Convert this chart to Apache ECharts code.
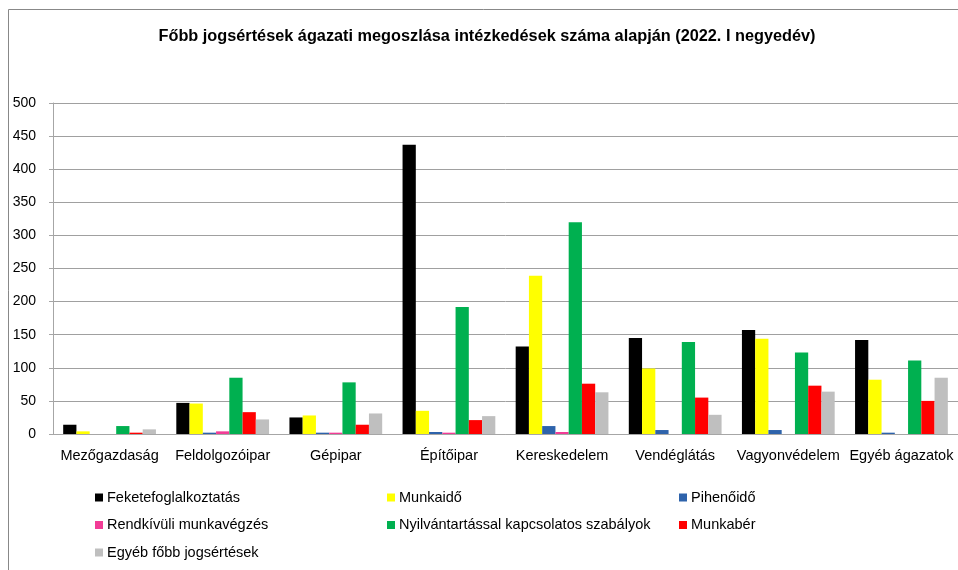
<!DOCTYPE html>
<html>
<head>
<meta charset="utf-8">
<script src="https://cdn.jsdelivr.net/npm/echarts@6/dist/echarts.min.js"></script>
<style>
  html, body { margin: 0; padding: 0; background: #fff; }
  #chart { width: 958px; height: 570px; }
</style>
</head>
<body>
<div id="chart"></div>
<script>
// ágazatok
const categories = ['Mezőgazdaság', 'Feldolgozóipar', 'Gépipar', 'Építőipar', 'Kereskedelem', 'Vendéglátás', 'Vagyonvédelem', 'Egyéb ágazatok']
const yTicks = [0, 50, 100, 150, 200, 250, 300, 350, 400, 450, 500]

// jogsértések, ágazatonként
const feketefoglalkoztatas = [14, 47, 25, 437, 132, 145, 157, 142]
const munkaido = [4, 46, 28, 35, 239, 99, 144, 82]
const pihenoido = [0, 2, 2, 3, 12, 6, 6, 2]
const rendkivuli = [0, 4, 2, 2, 3, 0, 0, 0]
const nyilvantartas = [12, 85, 78, 192, 320, 139, 123, 111]
const munkaber = [2, 33, 14, 21, 76, 55, 73, 50]
const egyeb = [7, 22, 31, 27, 63, 29, 64, 85]

const seriesList = [
  { name: 'Feketefoglalkoztatás', data: feketefoglalkoztatas, color: '#000000' },
  { name: 'Munkaidő', data: munkaido, color: '#ffff00' },
  { name: 'Pihenőidő', data: pihenoido, color: '#2e63ab' },
  { name: 'Rendkívüli munkavégzés', data: rendkivuli, color: '#f23c96' },
  { name: 'Nyilvántartással kapcsolatos szabályok', data: nyilvantartas, color: '#00b050' },
  { name: 'Munkabér', data: munkaber, color: '#ff0000' },
  { name: 'Egyéb főbb jogsértések', data: egyeb, color: '#bfbfbf' }
]

const fontFamily = '"Liberation Sans", sans-serif'

const chart = echarts.init(document.getElementById('chart'))

// három oszlopos jelmagyarázat
const legendBase = {
  orient: 'vertical',
  top: 490,
  height: 78,
  padding: 0,
  icon: 'rect',
  itemWidth: 8,
  itemHeight: 8,
  itemGap: 12.5,
  textStyle: { fontFamily: fontFamily, fontSize: 14.5, color: '#000', lineHeight: 15, padding: [0, 0, 0, -1] }
}

chart.setOption({
  animation: false,
  color: seriesList.map(s => s.color),
  title: {
    text: 'Főbb jogsértések ágazati megoszlása intézkedések száma alapján (2022. I negyedév)',
    left: 482,
    textAlign: 'center',
    top: 24,
    textStyle: { fontFamily: fontFamily, fontSize: 16.3, fontWeight: 'bold', color: '#000' }
  },
  legend: [
    Object.assign({}, legendBase, { left: 95, data: [seriesList[0].name, seriesList[3].name, seriesList[6].name] }),
    Object.assign({}, legendBase, { left: 387, data: [seriesList[1].name, seriesList[4].name] }),
    Object.assign({}, legendBase, { left: 679, data: [seriesList[2].name, seriesList[5].name] })
  ],
  grid: {
    top: 103,
    left: 53,
    right: -9,
    bottom: 136
  },
  xAxis: {
    type: 'category',
    data: categories,
    axisLine: { lineStyle: { color: '#a6a6a6' } },
    axisTick: { length: 5, lineStyle: { color: '#a6a6a6' } },
    axisLabel: { interval: 0, margin: 14, fontFamily: fontFamily, fontSize: 14.5, color: '#000' }
  },
  yAxis: {
    type: 'value',
    min: yTicks[0],
    max: yTicks[yTicks.length - 1],
    interval: 50,
    axisLine: { show: true, lineStyle: { color: '#a6a6a6' } },
    axisTick: { show: true, length: 4, lineStyle: { color: '#a6a6a6' } },
    splitLine: { lineStyle: { color: '#a0a0a0' } },
    axisLabel: { margin: 17, fontFamily: fontFamily, fontSize: 14, color: '#000' }
  },
  graphic: [{
    type: 'rect',
    shape: { x: 8.5, y: 9.5, width: 1000, height: 600 },
    style: { fill: 'none', stroke: '#888', lineWidth: 1 },
    silent: true
  }],
  series: seriesList.map(s => ({
    name: s.name,
    type: 'bar',
    data: s.data,
    barGap: '0%',
    barCategoryGap: '18%'
  }))
})
</script>
</body>
</html>
